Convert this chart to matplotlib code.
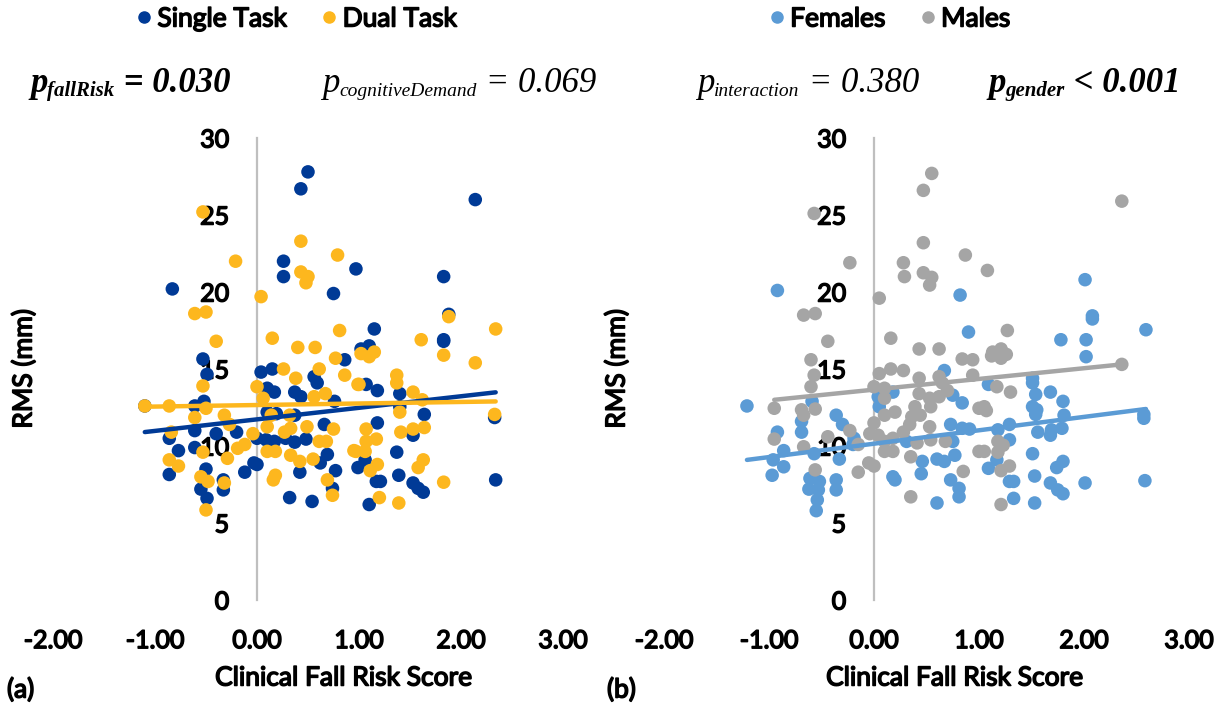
import numpy as np
import matplotlib.pyplot as plt
import matplotlib.patheffects as pe
from matplotlib.lines import Line2D

# Lato stands in for Calibri; a thin stroke gives it the bold look
plt.rcParams['font.family'] = ['Lato', 'DejaVu Sans']
BOLD = [pe.withStroke(linewidth=1.1, foreground='black')]

# ---- panel (a): RMS vs clinical fall risk score, by task ----
st_x = [0.50, 0.43, 0.26, 0.26, 0.97, 0.75, -0.83, 2.14, 1.83, 1.88, 1.15, 1.83,
        1.02, 0.86, -0.53, -0.49, 0.04, 0.15, 0.56, 0.59, 0.10, 0.17, 0.37, 0.43,
        0.76, -0.61, -0.52, -0.61, -0.86, -0.40, -0.20, -0.77, -0.61, -0.86, -0.50,
        -0.55, -0.49, -0.33, -0.33, -0.12, -0.03, 0.00, 0.00, 0.10, 0.09, 0.17, 0.19,
        0.28, 0.37, 0.42, 0.32, 0.54, 0.48, 0.37, 0.66, 0.69, 0.62, 0.77, 0.74, 0.99,
        1.83, 1.10, 1.07, 1.18, 1.40, 1.64, 1.40, 1.18, 1.53, 1.06, 1.37, 1.39, 1.17,
        1.21, 1.53, 1.58, 1.63, 2.34, 1.10, 2.33, -1.10]
st_y = [27.8, 26.7, 22.0, 21.0, 21.5, 19.9, 20.2, 26.0, 21.0, 18.55, 17.6, 16.9,
        16.3, 15.6, 15.65, 14.65, 14.8, 15.0, 14.5, 14.1, 13.75, 13.5, 13.5, 13.2,
        12.9, 12.6, 12.9, 11.0, 10.5, 10.8, 10.9, 9.7, 9.9, 8.15, 8.5,
        7.2, 6.6, 7.8, 7.15, 8.3, 8.9, 8.8, 10.5, 12.2, 10.4, 10.3, 12.1,
        10.5, 10.25, 8.3, 6.65, 6.4, 10.45, 12.0, 11.4, 9.45, 8.9, 8.4, 7.25, 8.6,
        16.8, 16.5, 14.0, 13.6, 13.4, 12.05, 12.55, 11.5, 10.7, 9.1, 9.6, 8.1, 7.7,
        7.7, 7.6, 7.25, 7.0, 7.8, 6.2, 11.85, 12.6]

dt_x = [-0.53, 0.43, 0.79, -0.21, 0.43, 0.50, 0.48, 0.04, -0.61, -0.50, 0.81, 0.15,
        -0.40, 1.88, 2.34, 1.61,
        0.40, 0.57, 0.77, -0.53, 0.26, 0.38, 0.61, 0.86, 0.99, 0.00, 0.06, 0.56, 0.67,
        -1.10, -0.86, -0.50, -0.61, -0.32, -0.27, -0.84, -0.53, -0.19, -0.12, -0.29,
        -0.86, -0.77, -0.55, -0.48, -0.50, -0.32, -0.04, 0.10, 0.14, 0.10, 0.18, 0.18,
        0.16, 0.27, 0.33, 0.33, 0.42, 0.49, 0.32, 0.75, 0.61, 0.68, 0.55, 0.69, 0.74,
        0.95,
        1.83, 2.14, 1.02, 1.10, 1.15, 1.37, 1.37, 1.00, 1.53, 1.62, 1.40, 1.07, 1.41,
        1.53, 1.64, 1.07, 1.17, 1.06, 0.97, 1.18, 1.11, 1.63, 1.58, 1.83, 1.20, 1.39,
        2.33]
dt_y = [25.2, 23.3, 22.4, 22.0, 21.3, 21.0, 20.6, 19.7, 18.6, 18.7, 17.5, 17.0,
        16.8, 18.4, 17.6, 16.9,
        16.4, 16.4, 15.7, 13.9, 15.0, 14.4, 15.0, 14.6, 14.0, 13.85, 13.1, 13.2, 13.4,
        12.6, 12.6, 12.45, 11.85, 12.0, 11.4, 10.9, 9.6, 9.85, 10.1, 9.2,
        9.1, 8.7, 8.0, 7.7, 5.85, 7.6, 10.8, 11.25, 12.0, 9.65, 9.65, 8.1,
        7.8, 10.9, 11.15, 9.4, 9.0, 11.25, 12.0, 11.1, 10.3, 10.3, 9.15, 7.8, 6.8,
        9.7,
        15.9, 15.4, 16.0, 15.8, 16.1, 14.6, 14.1, 14.0, 13.5, 13.0, 12.2, 11.1, 10.9,
        11.1, 11.2, 10.3, 10.45, 9.65, 9.65, 8.8, 8.4, 9.1, 8.6, 7.65, 6.65, 6.3,
        12.05]

# ---- panel (b): same measures, by gender ----
fem_x = [-0.92, 0.82, 0.90, 2.01, 2.08, 2.08, 2.59, 1.78, 2.02,
         0.67, 0.18, 0.04, 0.05, 0.75, 0.84, -1.21, -0.59, -0.69, -0.36, -0.30, -0.69,
         -0.92, -0.19, -0.20, -0.86, -0.57, -0.33, -0.96, -0.86, -0.97, -0.61, -0.52,
         -0.62, -0.53, -0.54, -0.55, -0.36, -0.36, 0.18, 0.20, 0.31, 0.46, 0.45, 0.60,
         0.73, 0.84, 0.91, 0.75, 0.60, 0.67, 0.77, 0.73, 0.81, 0.81,
         2.02, 1.09, 1.51, 1.51, 1.54, 1.68, 1.80, 1.51, 1.55, 1.54, 1.81, 2.57, 2.57,
         1.29, 1.18, 1.56, 1.69, 1.68, 1.79, 1.29, 1.51, 1.17, 1.80, 1.74, 1.09, 1.29,
         1.33, 1.53, 1.68, 1.75, 1.80, 2.01, 2.58, 1.33, 1.53]
fem_y = [20.1, 19.8, 17.4, 20.8, 18.45, 18.25, 17.55, 16.9, 16.9,
         14.9, 13.5, 13.2, 12.55, 13.3, 12.8, 12.6, 12.9, 11.6, 12.0, 11.4, 10.9,
         10.9, 10.5, 10.1, 9.7, 9.5, 9.15, 9.1, 8.65, 8.1, 7.9, 7.7,
         7.2, 7.15, 6.5, 5.8, 7.8, 7.15, 8.0, 7.8, 10.3, 9.0, 8.2, 6.3,
         11.4, 11.15, 11.1, 10.3, 9.15, 9.0, 9.4, 7.8, 7.25, 6.7,
         15.8, 14.0, 14.4, 14.1, 13.35, 13.5, 12.9, 12.55, 12.35, 12.05, 12.0, 12.05, 11.8,
         11.4, 11.05, 10.9, 11.05, 10.7, 11.15, 10.4, 9.5, 9.1, 9.0, 8.6, 8.55, 7.7,
         7.7, 8.05, 7.6, 7.15, 6.9, 7.6, 7.75, 6.6, 6.3]

male_x = [0.55, 0.47, -0.57, 0.47, 0.87, -0.23, 0.28, 0.29, 0.47, 0.55, 0.53, 0.05,
          -0.67, -0.56, -0.44, 0.16, 2.36, 1.08, 1.27,
          0.43, 0.62, -0.60, -0.57, -0.60, 0.84, 0.94, 0.05, 0.16, 0.28, 0.43, 0.62,
          0.65, 0.94, 0.00, 0.10, 0.10, 0.43, 0.53, 0.62, 0.70, 1.00, 0.39, 0.44, 0.36,
          0.54, -0.95, -0.69, -0.56, -0.67, -0.23, -0.95, -0.44, -0.67, -0.15, -0.56,
          -0.15, -0.05, 0.00, 0.00, -0.04, 0.04, 0.10, 0.20, 0.10, 0.10, 0.18, 0.18,
          0.28, 0.34, 0.41, 0.35, 0.35, 0.53, 0.54, 0.68, 0.85, 1.00,
          1.13, 1.21, 1.26, 1.21, 1.12, 2.36, 1.17, 1.30, 1.05, 1.07, 1.18, 1.23, 1.18,
          1.05, 1.21, 1.29, 1.21]
male_y = [27.7, 26.6, 25.1, 23.2, 22.4, 21.9, 21.9, 21.0, 21.25, 20.95, 20.45, 19.6,
          18.5, 18.6, 16.8, 17.0, 25.9, 21.4, 17.5,
          16.3, 16.3, 15.6, 14.6, 13.85, 15.65, 15.6, 14.7, 15.0, 14.9, 14.4, 14.5,
          14.1, 14.6, 13.85, 13.75, 13.1, 13.4, 13.1, 13.2, 13.6, 12.45, 12.55, 12.0, 11.9,
          12.55, 12.45, 12.35, 12.4, 12.0, 11.0, 10.45, 10.6, 9.95, 10.1, 8.45,
          8.3, 8.9, 8.7, 11.5, 10.8, 10.7, 12.0, 12.2, 10.3, 9.65, 9.65, 10.5,
          10.9, 11.4, 10.2, 9.3, 6.7, 11.25, 10.4, 10.3, 8.35, 9.65,
          16.1, 16.3, 15.95, 15.7, 15.85, 15.3, 13.85, 13.5, 12.55, 12.3, 10.3, 10.05, 9.6,
          9.65, 8.4, 8.7, 6.2]

# linear trendlines as drawn in the original (intercept, slope)
trend_st = (11.73, 0.75)
trend_dt = (12.66, 0.10)
trend_fem = (10.15, 0.87)
trend_male = (13.66, 0.695)

xticks = [-2, -1, 0, 1, 2, 3]
xtick_labels = ['-2.00', '-1.00', '0.00', '1.00', '2.00', '3.00']
yticks = [0, 5, 10, 15, 20, 25, 30]

C_ST, C_DT = '#003A96', '#FDB71E'
C_FEM, C_MALE = '#5B9BD5', '#A5A5A5'

W, H = 1225, 706
fig = plt.figure(figsize=(W / 100, H / 100), dpi=100)


def px_axes(x0, x1, ytop, ybot):
    return fig.add_axes([x0 / W, 1 - ybot / H, (x1 - x0) / W, (ybot - ytop) / H])


def btext(x_px, y_px, s, size, **kw):
    t = fig.text(x_px / W, 1 - y_px / H, s, fontsize=size, **kw)
    t.set_path_effects(BOLD)
    return t


def style(ax):
    ax.set_xlim(-2, 3)
    ax.set_ylim(0, 30)
    for s in ['top', 'right', 'bottom']:
        ax.spines[s].set_visible(False)
    # y axis crosses at x = 0 (must come before the tick labels are set)
    ax.spines['left'].set_position(('data', 0))
    ax.spines['left'].set_color('#BFBFBF')
    ax.spines['left'].set_linewidth(1.6)
    ax.spines['left'].set_zorder(0.5)
    ax.set_xticks(xticks)
    ax.set_xticklabels(xtick_labels, fontsize=18)
    ax.set_yticks(yticks)
    ax.set_yticklabels([str(v) for v in yticks], fontsize=18)
    for lbl in ax.get_xticklabels() + ax.get_yticklabels():
        lbl.set_path_effects(BOLD)
    ax.tick_params(length=0)
    ax.tick_params(axis='y', pad=20)
    ax.tick_params(axis='x', pad=21)


def series(ax, x, y, trend, color):
    x = np.array(x)
    ax.scatter(x, y, s=95, color=color, edgecolors='none', zorder=2)
    xs = np.array([x.min(), x.max()])
    return xs, trend[0] + trend[1] * xs


ax_a = px_axes(53, 563, 138, 600)
ax_b = px_axes(664, 1189, 138, 600)
for ax in (ax_a, ax_b):
    style(ax)

lines_a = [series(ax_a, st_x, st_y, trend_st, C_ST), series(ax_a, dt_x, dt_y, trend_dt, C_DT)]
for (xs, ys), c in zip(lines_a, [C_ST, C_DT]):
    ax_a.plot(xs, ys, color=c, lw=3.2, solid_capstyle='round', zorder=3)

lines_b = [series(ax_b, fem_x, fem_y, trend_fem, C_FEM), series(ax_b, male_x, male_y, trend_male, C_MALE)]
for (xs, ys), c in zip(lines_b, [C_FEM, C_MALE]):
    ax_b.plot(xs, ys, color=c, lw=3.2, solid_capstyle='round', zorder=3)

# axis titles and panel letters
for xc, yl in [(344, 24), (955, 617)]:
    btext(xc, 678, 'Clinical Fall Risk Score', 19, ha='center', va='center')
    btext(yl, 369, 'RMS (mm)', 19, ha='center', va='center', rotation=90)
btext(7, 690, '(a)', 19, ha='left', va='center')
btext(607, 690, '(b)', 19, ha='left', va='center')

# legends
for labels, cols, xc in [(['Single Task', 'Dual Task'], [C_ST, C_DT], 298),
                         (['Females', 'Males'], [C_FEM, C_MALE], 891)]:
    handles = [Line2D([], [], ls='', marker='o', ms=8, color=c) for c in cols]
    leg = fig.legend(handles, labels, loc='center', bbox_to_anchor=(xc / W, 1 - 19 / H), ncol=2,
                     frameon=False, fontsize=19, handlelength=0.4, handletextpad=0.3,
                     columnspacing=1.4, borderpad=0)
    for t in leg.get_texts():
        t.set_path_effects(BOLD)

# p-value annotations (Times-like serif, chained pieces)
renderer = fig.canvas.get_renderer()


def ptext(x_px, sub, rest, bold):
    w = 'bold' if bold else 'normal'
    x = x_px / W
    y = 1 - 92 / H
    for s, size, dy in [('p', 25, 0), (sub, 15 if bold else 14, -4), (rest, 25, 0)]:
        t = fig.text(x, y + dy / H, s, fontsize=size, style='italic', weight=w,
                     family='Liberation Serif', va='baseline', ha='left')
        x = t.get_window_extent(renderer).x1 / fig.bbox.width


ptext(30, 'fallRisk', ' = 0.030', True)
ptext(322, 'cognitiveDemand', ' = 0.069', False)
ptext(697, 'interaction', ' = 0.380', False)
ptext(988, 'gender', ' < 0.001', True)

fig.savefig('out.png', dpi=100)
